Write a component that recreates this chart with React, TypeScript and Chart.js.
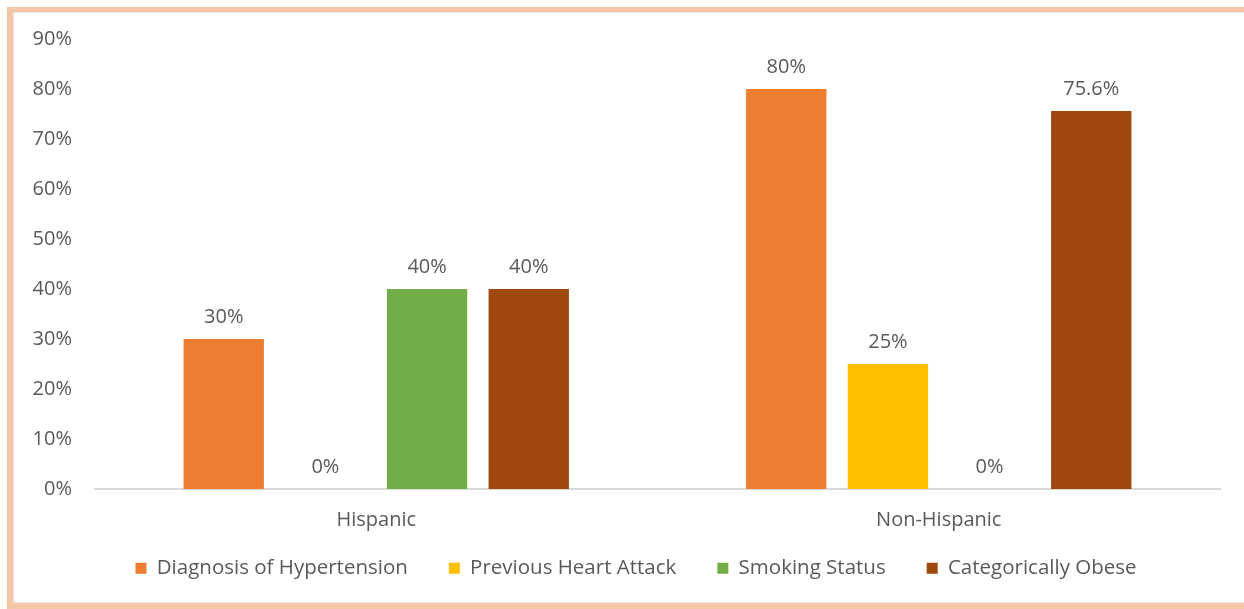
import React, { useEffect, useRef } from "react";
import { Chart, registerables } from "chart.js";

Chart.register(...registerables);

// Groups along the x axis
const categories = ["Hispanic", "Non-Hispanic"];

// Share of each group (percent)
const hypertension = [30, 80];
const heartAttack = [0, 25];
const smoking = [40, 0];
const obese = [40, 75.6];

const seriesNames = [
  "Diagnosis of Hypertension",
  "Previous Heart Attack",
  "Smoking Status",
  "Categorically Obese",
];
const seriesColors = ["#ED7D31", "#FFC000", "#70AD47", "#9E480E"];

// Y axis ticks (percent)
const yTicks = [0, 10, 20, 30, 40, 50, 60, 70, 80, 90];

const FONT = "'Open Sans', 'Noto Sans', sans-serif";
const FONT_SIZE = 20;
const LEGEND_FONT_SIZE = 20.5;
const LEGEND_PADDING = 41;
const TEXT = "#595959";

const formatPct = (v: number) => `${v}%`;

// Writes each bar's value just above it
const valueLabels = {
  id: "valueLabels",
  afterDatasetsDraw(chart: any) {
    const { ctx } = chart;
    ctx.save();
    ctx.font = `${FONT_SIZE}px ${FONT}`;
    ctx.fillStyle = TEXT;
    ctx.textAlign = "center";
    ctx.textBaseline = "middle";
    chart.data.datasets.forEach((ds: any, di: number) => {
      const meta = chart.getDatasetMeta(di);
      meta.data.forEach((bar: any, i: number) => {
        const v = ds.data[i] as number;
        ctx.fillText(formatPct(v), bar.x, bar.y - 22);
      });
    });
    ctx.restore();
  },
};

// Nudges the legend row so it sits under the plot, a little right of the canvas centre
const legendOffset = {
  id: "legendOffset",
  afterLayout(chart: any) {
    const lg = chart.legend;
    if (!lg) return;
    lg.left += 26;
    lg.right += 26;
    lg.top -= 17;
    lg.bottom -= 17;
  },
};

export default function App() {
  const canvasRef = useRef<HTMLCanvasElement | null>(null);

  useEffect(() => {
    if (!canvasRef.current) return;
    const values = [hypertension, heartAttack, smoking, obese];
    const chart = new Chart(canvasRef.current, {
      type: "bar",
      data: {
        labels: categories,
        datasets: values.map((data, i) => ({
          label: seriesNames[i],
          data,
          backgroundColor: seriesColors[i],
          borderWidth: 0,
          categoryPercentage: 0.723,
          barPercentage: 0.79,
        })),
      },
      options: {
        animation: false,
        responsive: true,
        maintainAspectRatio: false,
        layout: { padding: { top: 39, right: 24, bottom: 3.5, left: 0 } },
        plugins: {
          tooltip: { enabled: false },
          legend: {
            position: "bottom",
            labels: {
              color: TEXT,
              font: { family: FONT, size: LEGEND_FONT_SIZE },
              boxWidth: 11,
              boxHeight: 11,
              padding: LEGEND_PADDING,
            },
          },
        },
        scales: {
          x: {
            grid: { display: false, drawTicks: false },
            border: { display: true, color: "#D9D9D9", width: 2 },
            ticks: {
              color: TEXT,
              font: { family: FONT, size: FONT_SIZE },
              padding: 19,
            },
            afterFit(scale: any) {
              scale.height = 45;
            },
          },
          y: {
            min: 0,
            max: yTicks[yTicks.length - 1],
            afterBuildTicks(scale: any) {
              scale.ticks = yTicks.map((v) => ({ value: v }));
            },
            grid: { display: false, drawTicks: false },
            border: { display: false },
            ticks: {
              color: TEXT,
              font: { family: FONT, size: FONT_SIZE },
              padding: 23,
              callback: (v: any) => formatPct(Number(v)),
            },
            afterFit(scale: any) {
              scale.width = 95;
            },
          },
        },
      },
      plugins: [valueLabels, legendOffset],
    });
    return () => chart.destroy();
  }, []);

  return (
    <div
      style={{
        position: "fixed",
        left: 0,
        top: 0,
        width: 1244,
        height: 609,
        background: "#ffffff",
        overflow: "hidden",
      }}
    >
      <div
        style={{
          position: "absolute",
          left: 7,
          top: 7,
          width: 1250,
          height: 602,
          boxSizing: "border-box",
          borderLeft: "6px solid #F4C6A6",
          borderTop: "5px solid #F4C6A6",
          borderBottom: "6px solid #F4C6A6",
          boxShadow: "inset 1px 1px 2px #E4E4E4, inset 0 -1px 2px #E4E4E4",
        }}
      />
      <div style={{ position: "absolute", left: 0, top: 0, width: 1244, height: 609 }}>
        <canvas ref={canvasRef} />
      </div>
    </div>
  );
}
